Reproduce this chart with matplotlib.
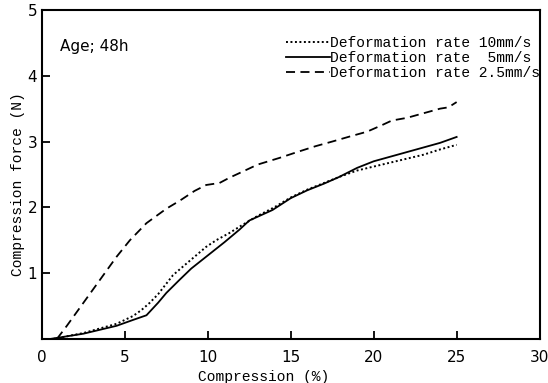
import matplotlib
matplotlib.use("Agg")
import matplotlib.pyplot as plt

# Data
x_10 = [0.7, 1.5, 2.5, 3.5, 4.5, 5.5, 6.0, 6.5, 7.0, 7.9, 8.5, 9.9, 10.5, 11.3, 12.0, 13.0, 14.0, 15.0, 16.0, 17.0, 18.0, 19.0, 20.0, 21.0, 22.0, 23.0, 24.0, 25.0]
y_10 = [0.0, 0.04, 0.09, 0.16, 0.23, 0.35, 0.44, 0.55, 0.68, 0.97, 1.1, 1.4, 1.5, 1.61, 1.72, 1.87, 2.0, 2.15, 2.27, 2.37, 2.47, 2.56, 2.62, 2.68, 2.74, 2.8, 2.88, 2.95]

x_5 = [0.5, 1.5, 2.5, 3.5, 4.5, 5.5, 6.3, 7.0, 7.5, 8.3, 9.0, 9.9, 11.0, 11.9, 12.5, 13.9, 15.0, 16.0, 17.0, 17.9, 19.0, 20.0, 21.0, 22.0, 23.0, 24.0, 25.0]
y_5 = [0.0, 0.04, 0.08, 0.14, 0.2, 0.29, 0.36, 0.55, 0.7, 0.9, 1.07, 1.25, 1.47, 1.66, 1.8, 1.96, 2.14, 2.26, 2.36, 2.46, 2.6, 2.7, 2.77, 2.84, 2.91, 2.98, 3.07]

x_25 = [0.9, 1.5, 2.5, 3.5, 4.5, 5.3, 6.3, 7.5, 8.3, 9.2, 9.9, 10.7, 11.3, 11.9, 13.0, 14.3, 15.5, 16.5, 17.5, 18.6, 19.6, 20.5, 21.1, 22.0, 23.0, 24.0, 24.5, 25.0]
y_25 = [0.0, 0.2, 0.55, 0.9, 1.25, 1.5, 1.76, 1.98, 2.1, 2.25, 2.34, 2.37, 2.45, 2.52, 2.65, 2.75, 2.85, 2.93, 3.0, 3.08, 3.15, 3.25, 3.32, 3.36, 3.43, 3.5, 3.52, 3.6]

labels = ["Deformation rate 10mm/s", "Deformation rate  5mm/s", "Deformation rate 2.5mm/s"]
xticks = [0, 5, 10, 15, 20, 25, 30]
yticks = [1, 2, 3, 4, 5]

fig = plt.figure(figsize=(5.48, 3.83), dpi=100)
ax = fig.add_axes([0.0766, 0.115, 0.908, 0.859])

ax.plot(x_10, y_10, color="black", lw=1.4, linestyle=(0, (1, 1.3)), label=labels[0])
ax.plot(x_5, y_5, color="black", lw=1.3, linestyle="-", label=labels[1])
ax.plot(x_25, y_25, color="black", lw=1.3, linestyle=(0, (5, 3)), label=labels[2])

ax.set_xlim(0, 30)
ax.set_ylim(0, 5)
ax.set_xticks(xticks)
ax.set_yticks(yticks)
ax.tick_params(direction="in", length=6, width=1.3, labelsize=11)
ax.tick_params(axis="x", pad=8)
for s in ax.spines.values():
    s.set_linewidth(1.5)

mono = "Liberation Mono"
ax.set_xlabel("Compression (%)", fontfamily=mono, fontsize=10.5)
ax.xaxis.set_label_coords(0.445, -0.095)
ax.set_ylabel("Compression force (N)", fontfamily=mono, fontsize=10.5)
ax.yaxis.set_label_coords(-0.034, 0.47)
ax.text(1.1, 4.45, "Age; 48h", fontsize=11, ha="left", va="center")

leg = ax.legend(loc="upper right", frameon=False, prop={"family": mono, "size": 10.5},
                handlelength=3.0, handletextpad=0.0, labelspacing=0.05,
                borderaxespad=0.0, bbox_to_anchor=(1.012, 0.938))

fig.savefig("out.png", dpi=100)
